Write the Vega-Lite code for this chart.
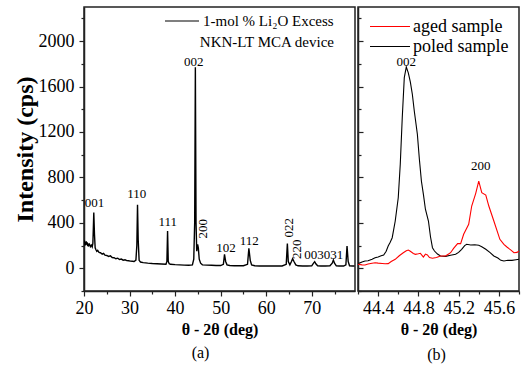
{
  "$schema": "https://vega.github.io/schema/vega-lite/v6.json",
  "padding": {"left": 12, "top": 6, "right": 2, "bottom": 2},
  "background": "white",
  "config": {
    "font": "Liberation Serif",
    "view": {"stroke": "#222", "strokeWidth": 1.5},
    "axis": {"domainColor": "#222", "domainWidth": 1.5, "tickColor": "#222", "tickWidth": 1.2, "labelFont": "Liberation Serif", "labelFontSize": 18, "labelColor": "#000", "titleFont": "Liberation Serif", "titleColor": "#000", "grid": false, "labelOverlap": false, "labelBound": false, "labelFlush": false},
    "legend": {"labelFont": "Liberation Serif", "titleFont": "Liberation Serif", "labelColor": "#000", "titleColor": "#000", "padding": 0},
    "title": {"font": "Liberation Serif", "fontSize": 16, "fontWeight": "normal", "color": "#000"},
    "text": {"font": "Liberation Serif", "fill": "#000"}
  },
  "datasets": {
    "left": [
      {"two_theta": 20.0, "intensity": 215}, {"two_theta": 20.1, "intensity": 245}, {"two_theta": 20.2, "intensity": 200},
      {"two_theta": 20.3, "intensity": 232}, {"two_theta": 20.4, "intensity": 205}, {"two_theta": 20.5, "intensity": 238},
      {"two_theta": 20.6, "intensity": 210}, {"two_theta": 20.7, "intensity": 228}, {"two_theta": 20.8, "intensity": 195},
      {"two_theta": 20.9, "intensity": 218}, {"two_theta": 21.0, "intensity": 200}, {"two_theta": 21.2, "intensity": 212},
      {"two_theta": 21.4, "intensity": 190}, {"two_theta": 21.6, "intensity": 203}, {"two_theta": 21.8, "intensity": 188},
      {"two_theta": 21.95, "intensity": 220}, {"two_theta": 22.05, "intensity": 350}, {"two_theta": 22.15, "intensity": 490},
      {"two_theta": 22.3, "intensity": 300}, {"two_theta": 22.45, "intensity": 180}, {"two_theta": 22.6, "intensity": 165},
      {"two_theta": 22.8, "intensity": 150}, {"two_theta": 23.0, "intensity": 158}, {"two_theta": 23.3, "intensity": 140},
      {"two_theta": 23.6, "intensity": 137}, {"two_theta": 24.0, "intensity": 125}, {"two_theta": 24.3, "intensity": 131},
      {"two_theta": 24.6, "intensity": 115}, {"two_theta": 25.0, "intensity": 113}, {"two_theta": 25.4, "intensity": 104},
      {"two_theta": 25.8, "intensity": 109}, {"two_theta": 26.2, "intensity": 95}, {"two_theta": 26.6, "intensity": 93},
      {"two_theta": 27.0, "intensity": 84}, {"two_theta": 27.4, "intensity": 89}, {"two_theta": 27.8, "intensity": 77},
      {"two_theta": 28.2, "intensity": 81}, {"two_theta": 28.6, "intensity": 71}, {"two_theta": 29.0, "intensity": 75},
      {"two_theta": 29.4, "intensity": 67}, {"two_theta": 29.8, "intensity": 66}, {"two_theta": 30.2, "intensity": 63},
      {"two_theta": 30.6, "intensity": 62}, {"two_theta": 31.0, "intensity": 60}, {"two_theta": 31.4, "intensity": 72},
      {"two_theta": 31.6, "intensity": 200}, {"two_theta": 31.75, "intensity": 560}, {"two_theta": 31.9, "intensity": 250},
      {"two_theta": 32.1, "intensity": 70}, {"two_theta": 32.4, "intensity": 55}, {"two_theta": 33.0, "intensity": 50},
      {"two_theta": 34.0, "intensity": 45}, {"two_theta": 35.0, "intensity": 42}, {"two_theta": 36.0, "intensity": 40},
      {"two_theta": 37.0, "intensity": 38}, {"two_theta": 38.0, "intensity": 36}, {"two_theta": 38.2, "intensity": 60},
      {"two_theta": 38.35, "intensity": 328}, {"two_theta": 38.5, "intensity": 60}, {"two_theta": 38.7, "intensity": 40},
      {"two_theta": 39.0, "intensity": 35}, {"two_theta": 40.0, "intensity": 32}, {"two_theta": 41.0, "intensity": 30},
      {"two_theta": 42.0, "intensity": 28}, {"two_theta": 43.0, "intensity": 27}, {"two_theta": 43.8, "intensity": 30},
      {"two_theta": 44.1, "intensity": 80}, {"two_theta": 44.3, "intensity": 400}, {"two_theta": 44.45, "intensity": 1770},
      {"two_theta": 44.6, "intensity": 400}, {"two_theta": 44.75, "intensity": 150}, {"two_theta": 44.95, "intensity": 211},
      {"two_theta": 45.1, "intensity": 180}, {"two_theta": 45.3, "intensity": 80}, {"two_theta": 45.6, "intensity": 45},
      {"two_theta": 46.0, "intensity": 30}, {"two_theta": 47.0, "intensity": 28}, {"two_theta": 48.0, "intensity": 27},
      {"two_theta": 49.0, "intensity": 25}, {"two_theta": 50.0, "intensity": 24}, {"two_theta": 50.6, "intensity": 35},
      {"two_theta": 50.85, "intensity": 123}, {"two_theta": 51.1, "intensity": 60}, {"two_theta": 51.4, "intensity": 30},
      {"two_theta": 52.0, "intensity": 24}, {"two_theta": 53.0, "intensity": 22}, {"two_theta": 54.0, "intensity": 22},
      {"two_theta": 55.0, "intensity": 22}, {"two_theta": 55.9, "intensity": 35}, {"two_theta": 56.2, "intensity": 176},
      {"two_theta": 56.5, "intensity": 70}, {"two_theta": 56.8, "intensity": 30}, {"two_theta": 57.5, "intensity": 22},
      {"two_theta": 58.5, "intensity": 20}, {"two_theta": 59.5, "intensity": 20}, {"two_theta": 60.5, "intensity": 20},
      {"two_theta": 61.5, "intensity": 20}, {"two_theta": 62.5, "intensity": 20}, {"two_theta": 63.5, "intensity": 20},
      {"two_theta": 64.4, "intensity": 35}, {"two_theta": 64.65, "intensity": 217}, {"two_theta": 64.85, "intensity": 60},
      {"two_theta": 65.2, "intensity": 30}, {"two_theta": 65.55, "intensity": 60}, {"two_theta": 65.8, "intensity": 85},
      {"two_theta": 66.1, "intensity": 60}, {"two_theta": 66.5, "intensity": 30}, {"two_theta": 67.0, "intensity": 22},
      {"two_theta": 68.0, "intensity": 20}, {"two_theta": 69.0, "intensity": 20}, {"two_theta": 70.0, "intensity": 22},
      {"two_theta": 70.4, "intensity": 45}, {"two_theta": 70.65, "intensity": 58}, {"two_theta": 70.9, "intensity": 40},
      {"two_theta": 71.3, "intensity": 22}, {"two_theta": 72.0, "intensity": 20}, {"two_theta": 73.0, "intensity": 20},
      {"two_theta": 74.0, "intensity": 22}, {"two_theta": 74.5, "intensity": 45}, {"two_theta": 74.75, "intensity": 73},
      {"two_theta": 75.0, "intensity": 45}, {"two_theta": 75.4, "intensity": 22}, {"two_theta": 76.0, "intensity": 20},
      {"two_theta": 77.0, "intensity": 20}, {"two_theta": 77.5, "intensity": 30}, {"two_theta": 77.75, "intensity": 196},
      {"two_theta": 78.0, "intensity": 60}, {"two_theta": 78.3, "intensity": 22}, {"two_theta": 79.0, "intensity": 20},
      {"two_theta": 79.4, "intensity": 20}
    ],
    "leftLabels": [
      {"two_theta": 22.3, "intensity": 577, "label": "001"},
      {"two_theta": 31.6, "intensity": 657, "label": "110"},
      {"two_theta": 38.4, "intensity": 408, "label": "111"},
      {"two_theta": 44.1, "intensity": 1816, "label": "002"},
      {"two_theta": 51.2, "intensity": 176, "label": "102"},
      {"two_theta": 56.3, "intensity": 240, "label": "112"},
      {"two_theta": 70.5, "intensity": 114, "label": "003"},
      {"two_theta": 74.8, "intensity": 114, "label": "031"}
    ],
    "leftLabelsRot": [
      {"two_theta": 46.2, "intensity": 349, "label": "200"},
      {"two_theta": 64.9, "intensity": 357, "label": "022"},
      {"two_theta": 66.7, "intensity": 167, "label": "220"}
    ],
    "right": [
      {"series": "poled sample", "two_theta": 44.20, "intensity": 41},
      {"series": "poled sample", "two_theta": 44.24, "intensity": 55},
      {"series": "poled sample", "two_theta": 44.27, "intensity": 64},
      {"series": "poled sample", "two_theta": 44.30, "intensity": 66},
      {"series": "poled sample", "two_theta": 44.34, "intensity": 80},
      {"series": "poled sample", "two_theta": 44.37, "intensity": 93},
      {"series": "poled sample", "two_theta": 44.40, "intensity": 100},
      {"series": "poled sample", "two_theta": 44.43, "intensity": 110},
      {"series": "poled sample", "two_theta": 44.455, "intensity": 117},
      {"series": "poled sample", "two_theta": 44.48, "intensity": 150},
      {"series": "poled sample", "two_theta": 44.50, "intensity": 196},
      {"series": "poled sample", "two_theta": 44.52, "intensity": 230},
      {"series": "poled sample", "two_theta": 44.54, "intensity": 269},
      {"series": "poled sample", "two_theta": 44.57, "intensity": 416},
      {"series": "poled sample", "two_theta": 44.60, "intensity": 621},
      {"series": "poled sample", "two_theta": 44.62, "intensity": 915},
      {"series": "poled sample", "two_theta": 44.64, "intensity": 1330},
      {"series": "poled sample", "two_theta": 44.66, "intensity": 1678},
      {"series": "poled sample", "two_theta": 44.68, "intensity": 1772},
      {"series": "poled sample", "two_theta": 44.70, "intensity": 1720},
      {"series": "poled sample", "two_theta": 44.72, "intensity": 1640},
      {"series": "poled sample", "two_theta": 44.74, "intensity": 1532},
      {"series": "poled sample", "two_theta": 44.76, "intensity": 1380},
      {"series": "poled sample", "two_theta": 44.79, "intensity": 1180},
      {"series": "poled sample", "two_theta": 44.81, "intensity": 960},
      {"series": "poled sample", "two_theta": 44.83, "intensity": 768},
      {"series": "poled sample", "two_theta": 44.85, "intensity": 650},
      {"series": "poled sample", "two_theta": 44.87, "intensity": 520},
      {"series": "poled sample", "two_theta": 44.90, "intensity": 416},
      {"series": "poled sample", "two_theta": 44.92, "intensity": 280},
      {"series": "poled sample", "two_theta": 44.94, "intensity": 181},
      {"series": "poled sample", "two_theta": 44.96, "intensity": 152},
      {"series": "poled sample", "two_theta": 44.99, "intensity": 125},
      {"series": "poled sample", "two_theta": 45.02, "intensity": 108},
      {"series": "poled sample", "two_theta": 45.07, "intensity": 105},
      {"series": "poled sample", "two_theta": 45.12, "intensity": 115},
      {"series": "poled sample", "two_theta": 45.17, "intensity": 123},
      {"series": "poled sample", "two_theta": 45.20, "intensity": 140},
      {"series": "poled sample", "two_theta": 45.23, "intensity": 167},
      {"series": "poled sample", "two_theta": 45.26, "intensity": 200},
      {"series": "poled sample", "two_theta": 45.28, "intensity": 211},
      {"series": "poled sample", "two_theta": 45.32, "intensity": 205},
      {"series": "poled sample", "two_theta": 45.36, "intensity": 207},
      {"series": "poled sample", "two_theta": 45.40, "intensity": 203},
      {"series": "poled sample", "two_theta": 45.43, "intensity": 190},
      {"series": "poled sample", "two_theta": 45.47, "intensity": 167},
      {"series": "poled sample", "two_theta": 45.51, "intensity": 140},
      {"series": "poled sample", "two_theta": 45.55, "intensity": 108},
      {"series": "poled sample", "two_theta": 45.59, "intensity": 90},
      {"series": "poled sample", "two_theta": 45.62, "intensity": 70},
      {"series": "poled sample", "two_theta": 45.65, "intensity": 64},
      {"series": "poled sample", "two_theta": 45.69, "intensity": 70},
      {"series": "poled sample", "two_theta": 45.73, "intensity": 70},
      {"series": "poled sample", "two_theta": 45.77, "intensity": 75},
      {"series": "poled sample", "two_theta": 45.80, "intensity": 79},
      {"series": "aged sample", "two_theta": 44.20, "intensity": 35},
      {"series": "aged sample", "two_theta": 44.24, "intensity": 30},
      {"series": "aged sample", "two_theta": 44.27, "intensity": 29},
      {"series": "aged sample", "two_theta": 44.30, "intensity": 38},
      {"series": "aged sample", "two_theta": 44.34, "intensity": 45},
      {"series": "aged sample", "two_theta": 44.37, "intensity": 49},
      {"series": "aged sample", "two_theta": 44.40, "intensity": 45},
      {"series": "aged sample", "two_theta": 44.44, "intensity": 42},
      {"series": "aged sample", "two_theta": 44.47, "intensity": 40},
      {"series": "aged sample", "two_theta": 44.50, "intensity": 41},
      {"series": "aged sample", "two_theta": 44.53, "intensity": 60},
      {"series": "aged sample", "two_theta": 44.57, "intensity": 79},
      {"series": "aged sample", "two_theta": 44.61, "intensity": 110},
      {"series": "aged sample", "two_theta": 44.65, "intensity": 137},
      {"series": "aged sample", "two_theta": 44.68, "intensity": 155},
      {"series": "aged sample", "two_theta": 44.70, "intensity": 161},
      {"series": "aged sample", "two_theta": 44.72, "intensity": 150},
      {"series": "aged sample", "two_theta": 44.75, "intensity": 130},
      {"series": "aged sample", "two_theta": 44.77, "intensity": 123},
      {"series": "aged sample", "two_theta": 44.80, "intensity": 128},
      {"series": "aged sample", "two_theta": 44.82, "intensity": 132},
      {"series": "aged sample", "two_theta": 44.84, "intensity": 110},
      {"series": "aged sample", "two_theta": 44.85, "intensity": 99},
      {"series": "aged sample", "two_theta": 44.87, "intensity": 125},
      {"series": "aged sample", "two_theta": 44.89, "intensity": 117},
      {"series": "aged sample", "two_theta": 44.91, "intensity": 95},
      {"series": "aged sample", "two_theta": 44.94, "intensity": 88},
      {"series": "aged sample", "two_theta": 44.98, "intensity": 95},
      {"series": "aged sample", "two_theta": 45.02, "intensity": 108},
      {"series": "aged sample", "two_theta": 45.07, "intensity": 108},
      {"series": "aged sample", "two_theta": 45.10, "intensity": 125},
      {"series": "aged sample", "two_theta": 45.12, "intensity": 137},
      {"series": "aged sample", "two_theta": 45.15, "intensity": 175},
      {"series": "aged sample", "two_theta": 45.19, "intensity": 217},
      {"series": "aged sample", "two_theta": 45.22, "intensity": 217},
      {"series": "aged sample", "two_theta": 45.25, "intensity": 299},
      {"series": "aged sample", "two_theta": 45.30, "intensity": 387},
      {"series": "aged sample", "two_theta": 45.33, "intensity": 548},
      {"series": "aged sample", "two_theta": 45.37, "intensity": 660},
      {"series": "aged sample", "two_theta": 45.40, "intensity": 768},
      {"series": "aged sample", "two_theta": 45.43, "intensity": 665},
      {"series": "aged sample", "two_theta": 45.47, "intensity": 645},
      {"series": "aged sample", "two_theta": 45.50, "intensity": 548},
      {"series": "aged sample", "two_theta": 45.55, "intensity": 416},
      {"series": "aged sample", "two_theta": 45.61, "intensity": 255},
      {"series": "aged sample", "two_theta": 45.65, "intensity": 210},
      {"series": "aged sample", "two_theta": 45.68, "intensity": 187},
      {"series": "aged sample", "two_theta": 45.72, "intensity": 160},
      {"series": "aged sample", "two_theta": 45.75, "intensity": 137},
      {"series": "aged sample", "two_theta": 45.78, "intensity": 140},
      {"series": "aged sample", "two_theta": 45.80, "intensity": 152}
    ],
    "rightLabels": [
      {"two_theta": 44.68, "intensity": 1816, "label": "002"},
      {"two_theta": 45.42, "intensity": 900, "label": "200"}
    ]
  },
  "resolve": {"scale": {"x": "independent", "y": "independent", "color": "independent"}, "legend": {"color": "independent"}},
  "spacing": 0,
  "hconcat": [
    {
      "width": 271,
      "height": 284,
      "title": {"text": "(a)", "orient": "bottom", "dx": -19, "offset": 8, "font": "Liberation Serif"},
      "encoding": {
        "x": {"field": "two_theta", "type": "quantitative",
          "scale": {"domain": [20, 79.5], "nice": false, "zero": false},
          "axis": {"values": [20, 25, 30, 35, 40, 45, 50, 55, 60, 65, 70, 75],
            "labelExpr": "datum.value % 10 === 0 ? datum.label : ''",
            "tickSize": {"condition": {"test": "datum.value % 10 === 0", "value": 5}, "value": 3},
            "labelFont": "Liberation Serif", "titleFont": "Liberation Serif",
            "labelPadding": 3, "title": "θ - 2θ (deg)", "titleFontSize": 16, "titleFontWeight": "bold", "titlePadding": 4}},
        "y": {"field": "intensity", "type": "quantitative",
          "scale": {"domain": [-200, 2300], "nice": false, "zero": false},
          "axis": {"values": [-200, 0, 200, 400, 600, 800, 1000, 1200, 1400, 1600, 1800, 2000, 2200],
            "format": "d",
            "labelExpr": "datum.value % 400 === 0 ? datum.label : ''",
            "tickSize": {"condition": {"test": "datum.value % 400 === 0", "value": 5}, "value": 3},
            "labelFont": "Liberation Serif", "titleFont": "Liberation Serif",
            "labelPadding": 5, "title": "Intensity (cps)", "titleFontSize": 24, "titleFontWeight": "bold", "titlePadding": 1}}
      },
      "layer": [
        {
          "data": {"name": "left"},
          "mark": {"type": "line", "strokeWidth": 1.4, "clip": true},
          "encoding": {
            "color": {"datum": "1-mol % Li₂O Excess", "type": "nominal",
              "scale": {"range": ["#000000"]},
              "legend": {"orient": "none", "legendX": 80, "legendY": 6, "title": "NKN-LT MCA device",
                "titleOrient": "bottom", "titleAnchor": "end", "titleFontSize": 15, "titleFontWeight": "normal",
                "titleFont": "Liberation Serif", "labelFont": "Liberation Serif",
                "titlePadding": 6, "labelFontSize": 15, "symbolType": "stroke", "symbolSize": 1156,
                "symbolStrokeWidth": 1.1, "labelOffset": 3, "clipHeight": 16}}
          }
        },
        {
          "data": {"name": "leftLabels"},
          "mark": {"type": "text", "fontSize": 13, "font": "Liberation Serif", "fill": "#000", "align": "center", "baseline": "middle"},
          "encoding": {"text": {"field": "label"}}
        },
        {
          "data": {"name": "leftLabelsRot"},
          "mark": {"type": "text", "fontSize": 13, "font": "Liberation Serif", "fill": "#000", "align": "center", "baseline": "middle", "angle": 270},
          "encoding": {"text": {"field": "label"}}
        }
      ]
    },
    {
      "width": 161,
      "height": 284,
      "title": {"text": "(b)", "orient": "bottom", "dx": -2, "offset": 10, "font": "Liberation Serif"},
      "encoding": {
        "x": {"field": "two_theta", "type": "quantitative",
          "scale": {"domain": [44.2, 45.8], "nice": false, "zero": false},
          "axis": {"values": [44.2, 44.4, 44.6, 44.8, 45.0, 45.2, 45.4, 45.6, 45.8],
            "format": ".1f",
            "labelExpr": "indexof([44.4, 44.8, 45.2, 45.6], datum.value) >= 0 ? datum.label : ''",
            "tickSize": {"condition": {"test": "indexof([44.4, 44.8, 45.2, 45.6], datum.value) >= 0", "value": 5}, "value": 3},
            "labelFont": "Liberation Serif", "titleFont": "Liberation Serif",
            "labelPadding": 3, "title": "θ - 2θ (deg)", "titleFontSize": 16, "titleFontWeight": "bold", "titlePadding": 4}},
        "y": {"field": "intensity", "type": "quantitative",
          "scale": {"domain": [-200, 2300], "nice": false, "zero": false},
          "axis": {"values": [-200, 0, 200, 400, 600, 800, 1000, 1200, 1400, 1600, 1800, 2000, 2200],
            "labels": false, "title": null,
            "tickSize": {"condition": {"test": "datum.value % 400 === 0", "value": -5}, "value": -3}}}
      },
      "layer": [
        {
          "data": {"name": "right"},
          "mark": {"type": "line", "strokeWidth": 1.1, "clip": true},
          "encoding": {
            "color": {"field": "series", "type": "nominal",
              "scale": {"domain": ["aged sample", "poled sample"], "range": ["#ff0000", "#000000"]},
              "legend": {"orient": "none", "legendX": 11, "legendY": 9.5, "title": null,
                "labelFont": "Liberation Serif",
                "labelFontSize": 18, "symbolType": "stroke", "symbolSize": 1600, "symbolStrokeWidth": 1.1,
                "labelOffset": 2, "clipHeight": 20, "rowPadding": -2.8}}
          }
        },
        {
          "data": {"name": "rightLabels"},
          "mark": {"type": "text", "fontSize": 13, "font": "Liberation Serif", "fill": "#000", "align": "center", "baseline": "middle"},
          "encoding": {"text": {"field": "label"}}
        }
      ]
    }
  ]
}
